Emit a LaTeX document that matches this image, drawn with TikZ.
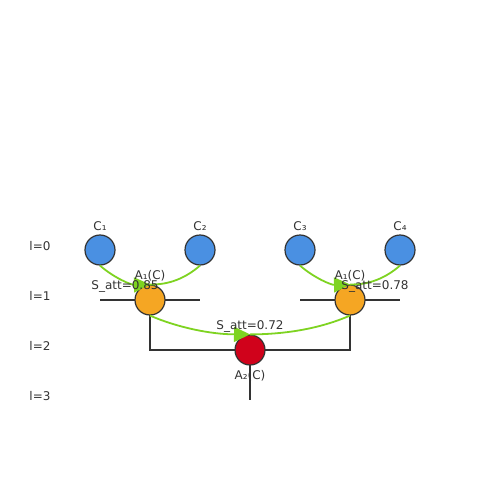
\documentclass[tikz,border=0pt]{standalone}
\usepackage{fontspec}
\setmainfont{DejaVu Sans}
\usetikzlibrary{arrows.meta}
\definecolor{cblue}{HTML}{4A90E2}
\definecolor{corange}{HTML}{F5A623}
\definecolor{cred}{HTML}{D0021B}
\definecolor{cgreen}{HTML}{7ED321}
\definecolor{cdark}{HTML}{333333}
\tikzset{
  nd/.style={circle,draw=cdark,line width=1.2pt,minimum size=30pt,inner sep=0pt},
  tree/.style={draw=cdark,line width=1.8pt},
  att/.style={draw=cgreen,line width=1.8pt},
  atth/.style={att,-{Triangle[length=16pt,width=15pt,fill=cgreen,color=cgreen]}},
  lbl/.style={text=cdark,font=\fontsize{12}{14}\selectfont,inner sep=0pt,anchor=center}
}
\begin{document}
\begin{tikzpicture}[x=1pt,y=-1pt]
\useasboundingbox (0,0) rectangle (500,500);
% coordinates
\coordinate (h1a) at (100,300);
\coordinate (h1b) at (200,300);
\coordinate (h2a) at (300,300);
\coordinate (h2b) at (400,300);
\coordinate (p1) at (150,350);
\coordinate (p2) at (350,350);
\coordinate (root) at (250,400);
% tree lines
\draw[tree] (h1a) -- (h1b);
\draw[tree] (h2a) -- (h2b);
\draw[tree] (150,300) -- (p1) -- (p2) -- (350,300);
\draw[tree] (250,350) -- (root);
% circles
\node[nd,fill=cblue] (c1) at (100,250) {};
\node[nd,fill=cblue] (c2) at (200,250) {};
\node[nd,fill=cblue] (c3) at (300,250) {};
\node[nd,fill=cblue] (c4) at (400,250) {};
\node[nd,fill=corange] (a1l) at (150,300) {};
\node[nd,fill=corange] (a1r) at (350,300) {};
\node[nd,fill=cred] (a2) at (250,350) {};
% attention curves
\draw[att] (c2.south) .. controls (185.3,278.3) and (168.7,285) .. (a1l.north);
\draw[atth] (c1.south) .. controls (114.7,278.3) and (131.3,285) .. (a1l.north);
\draw[att] (c4.south) .. controls (385.3,278.3) and (368.7,285) .. (a1r.north);
\draw[atth] (c3.south) .. controls (314.7,278.3) and (331.3,285) .. (a1r.north);
\draw[att] (a1r.south) .. controls (322,327.7) and (288.7,334.3) .. (a2.north);
\draw[atth] (a1l.south) .. controls (178,327.7) and (211.3,334.3) .. (a2.north);
% labels
\node[lbl] (l0) at (40,246) {l=0};
\node[lbl] (l1) at (40,296) {l=1};
\node[lbl] (l2) at (40,346) {l=2};
\node[lbl] (l3) at (40,396) {l=3};
\node[lbl] (tc1) at (100,226) {C₁};
\node[lbl] (tc2) at (200,226) {C₂};
\node[lbl] (tc3) at (300,226) {C₃};
\node[lbl] (tc4) at (400,226) {C₄};
\node[lbl] (ta1l) at (150,276) {A₁(C)};
\node[lbl] (sa1l) at (125,286) {S\_att=0.85};
\node[lbl] (ta1r) at (350,276) {A₁(C)};
\node[lbl] (sa1r) at (375,286) {S\_att=0.78};
\node[lbl] (sa2) at (250,326) {S\_att=0.72};
\node[lbl] (ta2) at (250,376) {A₂(C)};
\end{tikzpicture}
\end{document}
